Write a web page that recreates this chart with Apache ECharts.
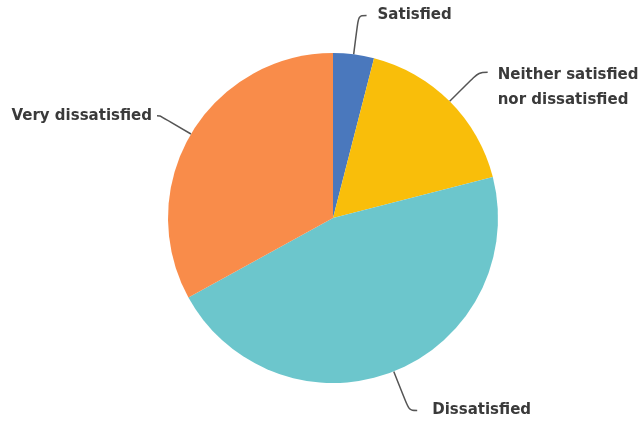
<!DOCTYPE html>
<html>
<head>
<meta charset="utf-8">
<script src="https://cdn.jsdelivr.net/npm/echarts@6/dist/echarts.min.js"></script>
<style>
  html, body { margin: 0; padding: 0; background: #ffffff; }
  #chart { width: 640px; height: 424px; }
</style>
</head>
<body>
<div id="chart"></div>
<script>
// Survey responses: share of answers per satisfaction level (percent)
const categories = ['Satisfied', 'Neither satisfied\nnor dissatisfied', 'Dissatisfied', 'Very dissatisfied'];
const values = [4, 17, 46, 33];
const colors = ['#4a78bd', '#f9be0a', '#6cc6cc', '#f98c4a'];

// Leader line geometry per slice: [radial length, horizontal length, gap to text]
const leaderLengths = [[39, 8, 11], [41, 9, 10], [42, 8, 15], [36, 3, 5]];
// Two-line labels get an empty spacer line on top so the text hangs below the leader end
const labelFormats = ['{b}', '{gap| }\n{b}', '{b}', '{b}'];

const chart = echarts.init(document.getElementById('chart'), null, { renderer: 'canvas' });

const data = categories.map((name, i) => ({
  name: name,
  value: values[i],
  itemStyle: { color: colors[i] },
  label: { formatter: labelFormats[i], distanceToLabelLine: leaderLengths[i][2] },
  labelLine: { length: leaderLengths[i][0], length2: leaderLengths[i][1] }
}));

chart.setOption({
  backgroundColor: '#ffffff',
  animation: false,
  series: [{
    type: 'pie',
    center: ['333px', '218px'],
    radius: 165,
    startAngle: 90,
    clockwise: true,
    avoidLabelOverlap: false,
    data: data,
    itemStyle: { borderWidth: 0 },
    label: {
      show: true,
      position: 'outside',
      fontFamily: 'DejaVu Sans',
      fontWeight: 'bold',
      fontSize: 15,
      lineHeight: 25,
      color: '#3a3a3a',
      rich: {
        gap: { fontSize: 1, lineHeight: 31, height: 31 }
      }
    },
    labelLine: {
      show: true,
      smooth: 0.35,
      lineStyle: { color: '#555555', width: 1.5 }
    },
    emphasis: { disabled: true }
  }]
});
</script>
</body>
</html>
